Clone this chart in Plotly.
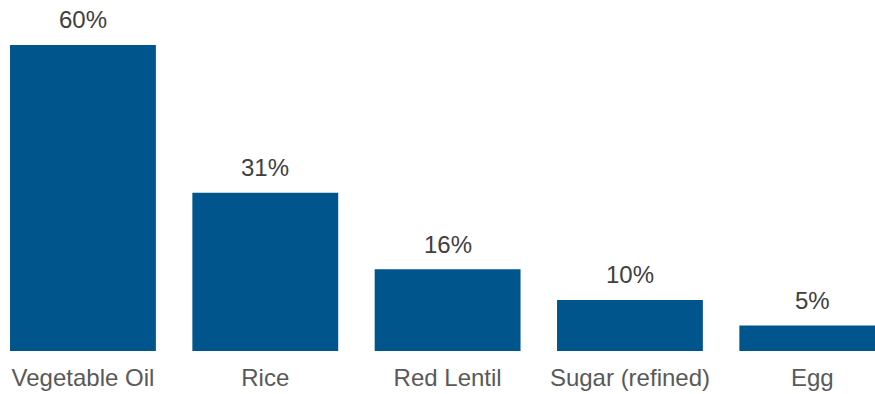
import plotly.graph_objects as go

categories = ["Vegetable Oil", "Rice", "Red Lentil", "Sugar (refined)", "Egg"]
values = [60, 31, 16, 10, 5]
labels = [f"{v}%" for v in values]

fig = go.Figure(go.Bar(
    x=categories, y=values,
    marker=dict(color="#00568C", line=dict(width=0)),
    cliponaxis=False, width=0.8,
))
for c, v, t in zip(categories, values, labels):
    fig.add_annotation(x=c, y=v, text=t, showarrow=False, yanchor="middle",
                       yshift=25, font=dict(family="Liberation Sans, Arial", size=24, color="#404040"))
fig.update_layout(
    width=875, height=394,
    margin=dict(l=0, r=0, t=0, b=43),
    plot_bgcolor="white", paper_bgcolor="white",
    showlegend=False,
    font=dict(family="Liberation Sans, Arial", size=24, color="#595959"),
    xaxis=dict(range=[-0.455, 4.344], showgrid=False, showline=False, ticks="",
               ticklabelstandoff=10,
               tickfont=dict(size=24, color="#595959")),
    yaxis=dict(range=[0, 68.8], visible=False),
)
fig.write_html("out.html")
